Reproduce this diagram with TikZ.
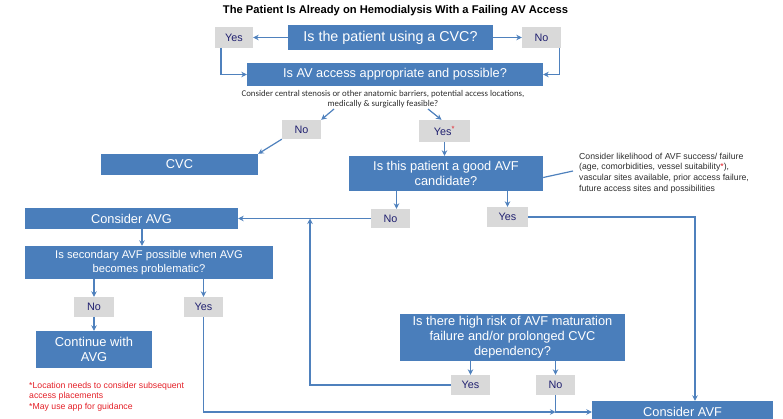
\documentclass[tikz,border=0pt]{standalone}
\usepackage{fontspec}
\setmainfont{Liberation Sans}
\newfontfamily\calfont{Carlito}
\usepackage{xcolor}
\usepackage{tikz}
\usetikzlibrary{arrows.meta}
\definecolor{hdblue}{RGB}{74,126,187}
\definecolor{hdline}{RGB}{79,129,189}
\definecolor{hdgray}{RGB}{217,217,217}
\definecolor{hdnavy}{RGB}{32,32,112}
\definecolor{hdred}{RGB}{228,32,40}
\definecolor{hdtext}{RGB}{45,45,45}

\begin{document}
\begin{tikzpicture}[x=1pt,y=-1pt,
  qbox/.style={fill=hdblue, text=white, inner sep=0pt, align=center, font=\fontsize{12.8}{15}\selectfont},
  ans/.style={fill=hdgray, text=hdnavy, inner sep=0pt, minimum width=39pt, minimum height=20pt, font=\fontsize{10.8}{12}\selectfont},
  link/.style={draw=hdline, line width=1.2pt, -{Stealth[length=5.5pt,width=5.5pt]}},
  plain/.style={draw=hdline, line width=1.2pt}]
\clip (0,0) rectangle (783,418);

% Top: CVC question
\node[font=\bfseries\fontsize{11.2}{13}\selectfont] (title) at (395.5,11) {The Patient Is Already on Hemodialysis With a Failing AV Access};
\node[qbox, minimum width=205pt, minimum height=25pt, font=\fontsize{14.3}{17}\selectfont] (q1) at (390.5,37.5) {Is the patient using a CVC?};
\node[ans, minimum width=38pt, minimum height=21pt] (yes1) at (234,37.5) {Yes};
\node[ans, minimum height=21pt] (no1) at (541.5,37.5) {No};
\node[qbox, minimum width=296pt, minimum height=23pt] (q2) at (395,74.5) {Is AV access appropriate and possible?};
\node[font=\calfont\fontsize{8.8}{10}\selectfont, align=center, text=hdtext, inner sep=0pt] (cap) at (383,99) {Consider central stenosis or other anatomic barriers, potential access locations,\\medically \& surgically feasible?};

\draw[link] (q1.west) -- (yes1.east);
\draw[link] (q1.east) -- (no1.west);
\draw[link] ([xshift=-13pt]yes1.south) |- (q2.west);
\draw[link] ([xshift=18pt]no1.south) |- (q2.east);

% AV access answer
\node[ans, minimum height=19pt] (no2) at (301.5,129.5) {No};
\node[ans, minimum width=51pt, minimum height=22pt] (yes2) at (444.5,131) {Yes\textcolor{hdred}{\textsuperscript{*}}};
\node[qbox, minimum width=157pt, minimum height=21pt] (cvc) at (179.5,164.5) {CVC};
\node[qbox, minimum width=194pt, minimum height=35pt] (q3) at (446,173.5) {Is this patient a good AVF\\candidate?};
\node[anchor=west, align=left, text=hdtext, inner sep=0pt, font=\fontsize{8.7}{10.7}\selectfont] (note3) at (579,173) {Consider likelihood of AVF success/ failure\\(age, comorbidities, vessel suitability\textcolor{hdred}{*}),\\vascular sites available, prior access failure,\\future access sites and possibilities};

\coordinate (capL) at (334,109);
\coordinate (capR) at (428,109);
\draw[link] (capL) -- (no2.north east);
\draw[link] (capR) -- ([xshift=-3pt]yes2.north);
\draw[link] (no2.south west) -- (cvc.north east);
\draw[link] (yes2.south) -- (yes2.south |- q3.north);
\draw[plain] ([yshift=-4pt]q3.east) -- ([xshift=-6pt,yshift=2pt]note3.west);

% Good AVF candidate?
\node[ans, minimum height=19pt] (no3) at (390.5,218.5) {No};
\node[ans, minimum width=41pt] (yes3) at (507.5,217) {Yes};
\node[qbox, minimum width=213pt, minimum height=21pt] (avg) at (131.5,218.5) {Consider AVG};
\node[qbox, minimum width=181pt, minimum height=22pt] (avf) at (682.5,412) {Consider AVF};

\draw[link] ([xshift=6pt]no3.north |- q3.south) -- ([xshift=6pt]no3.north);
\draw[link] (yes3.north |- q3.south) -- (yes3.north);
\draw[link] (no3.west) -- (no3.west -| avg.east);
\draw[link] (yes3.east) -| ([xshift=12.5pt]avf.north);

% AVG branch
\node[qbox, minimum width=248pt, minimum height=33pt, font=\fontsize{11.2}{14}\selectfont] (q4) at (149,262.5) {Is secondary AVF possible when AVG\\becomes problematic?};
\node[ans, minimum width=40pt] (no4) at (94,307) {No};
\node[ans] (yes4) at (203.5,307) {Yes};
\node[qbox, minimum width=116pt, minimum height=37pt, font=\fontsize{12.9}{15}\selectfont] (cont) at (94,349.5) {Continue with\\AVG};
\node[anchor=west, align=left, text=hdred, inner sep=0pt, font=\fontsize{8.7}{10.5}\selectfont] (redn) at (29,396.5) {*Location needs to consider subsequent\\access placements\\*May use app for guidance};

\draw[link] ([xshift=-7pt]q4.north |- avg.south) -- ([xshift=-7pt]q4.north);
\draw[link] (no4.north |- q4.south) -- (no4.north);
\draw[link] (yes4.north |- q4.south) -- (yes4.north);
\draw[link] (no4.south) -- (cont.north);

% Maturation risk
\node[qbox, minimum width=225pt, minimum height=47pt] (q5) at (512.5,337.5) {Is there high risk of AVF maturation\\failure and/or prolonged CVC\\dependency?};
\node[ans] (yes5) at (470.5,385) {Yes};
\node[ans] (no5) at (555.5,385) {No};
\coordinate (merge) at (310,218.5);

\draw[link] (q5.south -| yes5.north) -- (yes5.north);
\draw[link] (q5.south -| no5.north) -- (no5.north);
\draw[link] (yes5.west) -| (merge);
\draw[link] (yes4.south) |- (no5.south |- avf.west);
\draw[link] (no5.south) |- (avf.west);
\end{tikzpicture}
\end{document}
